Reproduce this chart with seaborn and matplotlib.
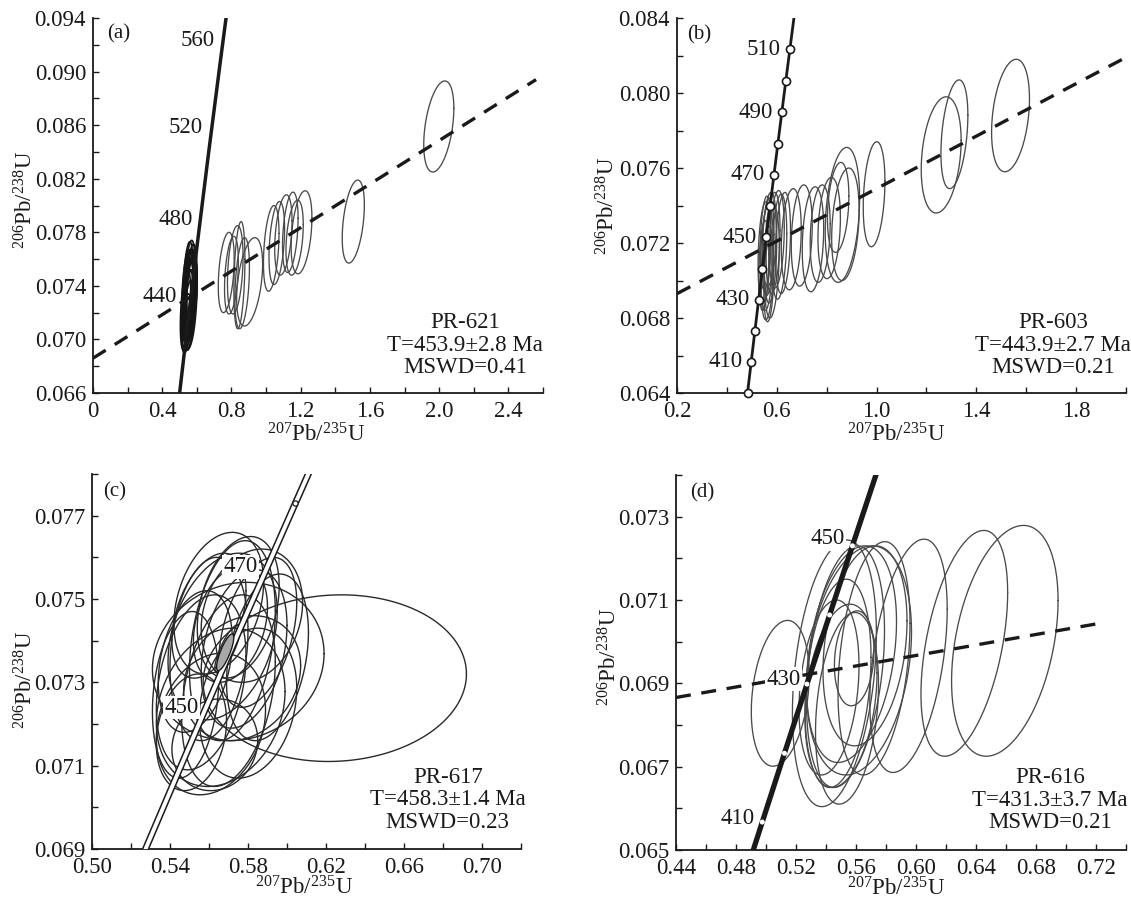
import numpy as np
import pandas as pd
import matplotlib
matplotlib.use("Agg")
import matplotlib.pyplot as plt
import seaborn as sns
from matplotlib.ticker import MultipleLocator

# ---------------- panel (a) PR-621 ----------------
# first 20 ellipses form the dense cluster near the concordia
a_cx = [0.535, 0.540, 0.545, 0.548, 0.550, 0.552, 0.555, 0.556, 0.558, 0.560, 0.562, 0.564, 0.566, 0.568, 0.570,
        0.542, 0.547, 0.553, 0.557, 0.572,
        0.770, 0.800, 0.822, 0.846, 0.862, 0.905,
        1.030, 1.062, 1.100, 1.140, 1.165, 1.205,
        1.504, 1.998]
a_cy = [0.0722, 0.0712, 0.0735, 0.0740, 0.0728, 0.0735, 0.0718, 0.0738, 0.0730, 0.0744, 0.0726, 0.0737, 0.0733, 0.0742,
        0.0739, 0.0705, 0.0725, 0.0732, 0.0722, 0.0736,
        0.0750, 0.0748, 0.0752, 0.0748, 0.0742, 0.0743,
        0.0768, 0.0772, 0.0778, 0.0780, 0.0776, 0.0780,
        0.0788, 0.0859]
a_sx = [0.030, 0.028, 0.032, 0.030, 0.034, 0.032, 0.030, 0.036, 0.034, 0.030, 0.038, 0.034, 0.036, 0.032, 0.030,
        0.026, 0.034, 0.036, 0.032, 0.030,
        0.046, 0.040, 0.045, 0.032, 0.042, 0.075,
        0.045, 0.045, 0.050, 0.045, 0.050, 0.060,
        0.064, 0.087]
a_sy = [0.0030, 0.0022, 0.0032, 0.0033, 0.0030, 0.0030, 0.0026, 0.0029, 0.0031, 0.0030, 0.0033, 0.0030, 0.0028, 0.0029,
        0.0025, 0.0011, 0.0027, 0.0034, 0.0030, 0.0026,
        0.0030, 0.0029, 0.0033, 0.0040, 0.0034, 0.0033,
        0.0032, 0.0031, 0.0030, 0.0030, 0.0028, 0.0031,
        0.0031, 0.0034]
a_rho = [0.40, 0.40, 0.35, 0.40, 0.35, 0.40, 0.35, 0.35, 0.40, 0.35, 0.35, 0.40, 0.35, 0.40, 0.35,
         0.40, 0.35, 0.35, 0.40, 0.35,
         0.35, 0.35, 0.30, 0.30, 0.35, 0.40,
         0.35, 0.35, 0.35, 0.35, 0.35, 0.35,
         0.40, 0.40]
a_conc_age = [400, 440, 480, 520, 560, 580]
a_conc_x = [0.4828, 0.5424, 0.6043, 0.6688, 0.7358, 0.7704]
a_conc_y = [0.06402, 0.07064, 0.07730, 0.08401, 0.09075, 0.09415]
a_label_ages = [440, 480, 520, 560]
a_disc_x = [0.0, 2.56]
a_disc_y = [0.0686, 0.0894]

# ---------------- panel (b) PR-603 ----------------
b_cx = [0.550, 0.555, 0.560, 0.565, 0.548, 0.570, 0.575, 0.562, 0.585, 0.580, 0.600, 0.610, 0.625, 0.568,
        0.658, 0.700, 0.745, 0.774, 0.810,
        0.846, 0.863, 0.875, 0.990, 1.259, 1.312, 1.537]
b_cy = [0.0715, 0.0720, 0.0712, 0.0718, 0.0708, 0.0722, 0.0715, 0.0704, 0.0720, 0.0710, 0.0722, 0.0718, 0.0720, 0.0700,
        0.0722, 0.0724, 0.0722, 0.0725, 0.0728,
        0.0739, 0.0735, 0.0730, 0.0746, 0.0767, 0.0778, 0.0788]
b_sx = [0.025, 0.022, 0.026, 0.024, 0.020, 0.028, 0.025, 0.025, 0.028, 0.030, 0.030, 0.030, 0.030, 0.020,
        0.040, 0.042, 0.043, 0.040, 0.045,
        0.043, 0.069, 0.055, 0.0435, 0.080, 0.054, 0.076]
b_sy = [0.0027, 0.0025, 0.0028, 0.0026, 0.0024, 0.0025, 0.0027, 0.0025, 0.0027, 0.0030, 0.0026, 0.0028, 0.0027, 0.0022,
        0.0027, 0.0027, 0.0028, 0.0026, 0.0027,
        0.0024, 0.0036, 0.0030, 0.0028, 0.0031, 0.0029, 0.0030]
b_rho = [0.25, 0.25, 0.25, 0.25, 0.25, 0.25, 0.25, 0.25, 0.25, 0.25, 0.25, 0.25, 0.25, 0.25,
         0.2, 0.2, 0.2, 0.2, 0.2,
         0.25, 0.25, 0.25, 0.25, 0.25, 0.35, 0.30]
b_conc_age = [400, 410, 420, 430, 440, 450, 460, 470, 480, 490, 500, 510, 520]
b_conc_x = [0.4828, 0.4975, 0.5123, 0.5273, 0.5424, 0.5576, 0.5730, 0.5886, 0.6043, 0.6202, 0.6362, 0.6524, 0.6688]
b_conc_y = [0.06402, 0.06567, 0.06732, 0.06898, 0.07064, 0.07230, 0.07397, 0.07563, 0.07730, 0.07898,
            0.08065, 0.08233, 0.08401]
b_marker_ages = [400, 410, 420, 430, 440, 450, 460, 470, 480, 490, 500, 510]
b_label_ages = [410, 430, 450, 470, 490, 510]
b_disc_x = [0.2, 2.0]
b_disc_y = [0.0693, 0.0819]

# ---------------- panel (c) PR-617 ----------------
c_cx = [0.565, 0.575, 0.582, 0.572, 0.560, 0.575, 0.567, 0.556, 0.551, 0.561, 0.563, 0.570, 0.578,
        0.585, 0.553, 0.577, 0.566, 0.590, 0.548, 0.571, 0.580, 0.560, 0.6245, 0.5695]
c_cy = [0.0749, 0.0748, 0.0746, 0.0740, 0.0738, 0.0735, 0.0741, 0.0730, 0.0718, 0.0720, 0.0715, 0.0728, 0.0738,
        0.0742, 0.0735, 0.0731, 0.0724, 0.0736, 0.0727, 0.0744, 0.0725, 0.0746, 0.0731, 0.0738]
c_sx = [0.023, 0.021, 0.026, 0.022, 0.020, 0.044, 0.028, 0.023, 0.018, 0.028, 0.022, 0.024, 0.022,
        0.020, 0.019, 0.030, 0.033, 0.021, 0.017, 0.019, 0.025, 0.019, 0.0675, 0.0065]
c_sy = [0.0017, 0.0017, 0.0016, 0.0024, 0.0022, 0.0019, 0.0020, 0.0021, 0.0014, 0.0017, 0.0011, 0.0023, 0.0019,
        0.0018, 0.0017, 0.0015, 0.0019, 0.0020, 0.0020, 0.0014, 0.0018, 0.0015, 0.0020, 0.00058]
c_rho = [0.3, 0.3, 0.2, 0.3, 0.2, 0.1, 0.3, 0.3, 0.2, 0.2, 0.1, 0.3, 0.3,
         0.4, 0.3, 0.2, 0.2, 0.3, 0.2, 0.3, 0.2, 0.4, 0.05, 0.8]
c_mean = [0.5683, 0.07372, 0.0044, 0.00044, 0.8]   # concordia age ellipse (filled)
c_conc_age = [420, 430, 440, 450, 460, 470, 480, 490]
c_conc_x = [0.5123, 0.5273, 0.5424, 0.5576, 0.5730, 0.5886, 0.6043, 0.6202]
c_conc_y = [0.06732, 0.06898, 0.07064, 0.07230, 0.07397, 0.07563, 0.07730, 0.07898]
c_marker_ages = [480]
c_label_ages = [450, 470]

# ---------------- panel (d) PR-616 ----------------
d_cx = [0.5095, 0.5456, 0.5620, 0.5530, 0.5480, 0.5588, 0.5420, 0.5570, 0.5660, 0.5500, 0.5720, 0.5540,
        0.5950, 0.6322, 0.6592]
d_cy = [0.06876, 0.06924, 0.06955, 0.06940, 0.06900, 0.06960, 0.06890, 0.06970, 0.06990, 0.06870, 0.06960, 0.06840,
        0.06966, 0.06996, 0.07002]
d_sx = [0.0193, 0.0280, 0.0350, 0.0260, 0.0220, 0.0132, 0.0200, 0.0300, 0.0280, 0.0240, 0.0240, 0.0210,
        0.0258, 0.0289, 0.0355]
d_sy = [0.00175, 0.00320, 0.00275, 0.00290, 0.00250, 0.00114, 0.00210, 0.00260, 0.00240, 0.00220, 0.00280, 0.00230,
        0.00280, 0.00271, 0.00277]
d_rho = [0.25, 0.30, 0.25, 0.30, 0.25, 0.15, 0.25, 0.30, 0.25, 0.25, 0.30, 0.25,
         0.40, 0.45, 0.35]
d_conc_age = [400, 410, 420, 430, 440, 450, 460, 470]
d_conc_x = [0.4828, 0.4975, 0.5123, 0.5273, 0.5424, 0.5576, 0.5730, 0.5886]
d_conc_y = [0.06402, 0.06567, 0.06732, 0.06898, 0.07064, 0.07230, 0.07397, 0.07563]
d_marker_ages = [410, 420, 430, 440, 450]
d_label_ages = [410, 430, 450]
d_disc_x = [0.44, 0.724]
d_disc_y = [0.06866, 0.07045]

# ---------------- axes / text ----------------
panel_tags = ["(a)", "(b)", "(c)", "(d)"]
sample_names = ["PR-621", "PR-603", "PR-617", "PR-616"]
age_texts = ["T=453.9\u00b12.8 Ma", "T=443.9\u00b12.7 Ma", "T=458.3\u00b11.4 Ma", "T=431.3\u00b13.7 Ma"]
mswd_texts = ["MSWD=0.41", "MSWD=0.21", "MSWD=0.23", "MSWD=0.21"]

a_xticks = [0.0, 0.4, 0.8, 1.2, 1.6, 2.0, 2.4]
a_xlabels = ["0", "0.4", "0.8", "1.2", "1.6", "2.0", "2.4"]
a_yticks = [0.066, 0.070, 0.074, 0.078, 0.082, 0.086, 0.090, 0.094]
a_ylabels = ["0.066", "0.070", "0.074", "0.078", "0.082", "0.086", "0.090", "0.094"]
b_xticks = [0.2, 0.6, 1.0, 1.4, 1.8]
b_xlabels = ["0.2", "0.6", "1.0", "1.4", "1.8"]
b_yticks = [0.064, 0.068, 0.072, 0.076, 0.080, 0.084]
b_ylabels = ["0.064", "0.068", "0.072", "0.076", "0.080", "0.084"]
c_xticks = [0.50, 0.54, 0.58, 0.62, 0.66, 0.70]
c_xlabels = ["0.50", "0.54", "0.58", "0.62", "0.66", "0.70"]
c_yticks = [0.069, 0.071, 0.073, 0.075, 0.077]
c_ylabels = ["0.069", "0.071", "0.073", "0.075", "0.077"]
d_xticks = [0.44, 0.48, 0.52, 0.56, 0.60, 0.64, 0.68, 0.72]
d_xlabels = ["0.44", "0.48", "0.52", "0.56", "0.60", "0.64", "0.68", "0.72"]
d_yticks = [0.065, 0.067, 0.069, 0.071, 0.073]
d_ylabels = ["0.065", "0.067", "0.069", "0.071", "0.073"]

XLAB = r"$^{207}$Pb/$^{235}$U"
YLAB = r"$^{206}$Pb/$^{238}$U"

sns.set_style("ticks")
plt.rcParams["font.family"] = ["Liberation Serif", "DejaVu Serif"]
plt.rcParams["mathtext.fontset"] = "custom"
plt.rcParams["mathtext.rm"] = "Liberation Serif"
plt.rcParams["mathtext.default"] = "regular"

INK = "#1a1a1a"
FS = 16.5


def ellipse_frame(cx, cy, sx, sy, rho, n=160):
    """Outline points of correlated error ellipses, one id per ellipse."""
    t = np.linspace(0, 2 * np.pi, n)
    parts = []
    for i, (x0, y0, a, b, r) in enumerate(zip(cx, cy, sx, sy, rho)):
        xs = x0 + a * np.cos(t)
        ys = y0 + b * (r * np.cos(t) + np.sqrt(1 - r * r) * np.sin(t))
        parts.append(pd.DataFrame({"x": xs, "y": ys, "id": i}))
    return pd.concat(parts, ignore_index=True)


def draw_ellipses(ax, cx, cy, sx, sy, rho, color, lw):
    df = ellipse_frame(cx, cy, sx, sy, rho)
    sns.lineplot(data=df, x="x", y="y", units="id", estimator=None, sort=False,
                 color=color, lw=lw, ax=ax, legend=False, zorder=2)


def pick(ages, values, wanted):
    return [v for a, v in zip(ages, values) if a in wanted]


def style_axes(ax, xlim, ylim, xt, xl, xminor, yt, yl, yminor, ylab_pos, xlab_pos):
    ax.set_xlim(*xlim)
    ax.set_ylim(*ylim)
    ax.set_xticks(xt, labels=xl)
    ax.set_yticks(yt, labels=yl)
    ax.xaxis.set_minor_locator(MultipleLocator(xminor))
    ax.yaxis.set_minor_locator(MultipleLocator(yminor))
    ax.tick_params(which="both", direction="in", length=4.5, width=1.0, colors=INK,
                   labelsize=FS)
    ax.tick_params(axis="x", pad=6)
    ax.tick_params(axis="y", pad=5)
    sns.despine(ax=ax)
    for side in ["left", "bottom"]:
        ax.spines[side].set_linewidth(1.3)
        ax.spines[side].set_color(INK)
    ax.set_xlabel(XLAB, fontsize=FS, color=INK)
    ax.set_ylabel(YLAB, fontsize=FS, color=INK)
    ax.yaxis.set_label_coords(*ylab_pos)
    ax.xaxis.set_label_coords(*xlab_pos)


def info_text(ax, k, pos, tag_pos):
    ax.text(pos[0], pos[1], "\n".join([sample_names[k], age_texts[k], mswd_texts[k]]),
            transform=ax.transAxes, ha="center", va="center", multialignment="center",
            fontsize=FS, linespacing=1.1, color=INK)
    ax.text(tag_pos[0], tag_pos[1], panel_tags[k], transform=ax.transAxes,
            ha="center", va="center", fontsize=15, color=INK)


fig = plt.figure(figsize=(11.31, 9.0), dpi=100)
ax_a = fig.add_axes([0.0822, 0.5633, 0.3979, 0.4167])
ax_b = fig.add_axes([0.5986, 0.5633, 0.3970, 0.4167])
ax_c = fig.add_axes([0.0813, 0.0567, 0.3794, 0.4166])
ax_d = fig.add_axes([0.5977, 0.0556, 0.3979, 0.4166])

# ---- (a) ----
draw_ellipses(ax_a, a_cx[:20], a_cy[:20], a_sx[:20], a_sy[:20], a_rho[:20], "#151515", 1.2)
draw_ellipses(ax_a, a_cx[20:], a_cy[20:], a_sx[20:], a_sy[20:], a_rho[20:], "#4a4a4a", 0.95)
sns.lineplot(x=a_disc_x, y=a_disc_y, ax=ax_a, color=INK, lw=2.4,
             linestyle=(0, (4.5, 3.2)), zorder=3)
sns.lineplot(x=a_conc_x, y=a_conc_y, sort=False, estimator=None, ax=ax_a, color=INK, lw=2.5, zorder=4)
a_off = {440: (-27, 34), 480: (-22, 22), 520: (-23, 24), 560: (-23, 21)}
for age, x, y in zip(a_conc_age, a_conc_x, a_conc_y):
    if age in a_label_ages:
        ax_a.annotate(str(age), xy=(x, y), xytext=a_off[age], textcoords="offset pixels",
                      ha="center", va="center", fontsize=FS, color=INK)
style_axes(ax_a, (0, 2.6), (0.066, 0.094), a_xticks, a_xlabels, 0.2, a_yticks, a_ylabels, 0.002,
           (-0.124, 0.515), (0.495, -0.08))
info_text(ax_a, 0, (0.827, 0.128), (0.057, 0.959))

# ---- (b) ----
draw_ellipses(ax_b, b_cx, b_cy, b_sx, b_sy, b_rho, "#4a4a4a", 0.95)
sns.lineplot(x=b_disc_x, y=b_disc_y, ax=ax_b, color=INK, lw=2.4,
             linestyle=(0, (4.5, 3.2)), zorder=3)
sns.lineplot(x=b_conc_x, y=b_conc_y, sort=False, estimator=None, ax=ax_b, color=INK, lw=2.0, zorder=4)
sns.scatterplot(x=pick(b_conc_age, b_conc_x, b_marker_ages), y=pick(b_conc_age, b_conc_y, b_marker_ages),
                ax=ax_b, s=34, color="white", edgecolor=INK, linewidth=1.2, zorder=5, clip_on=False)
for age, x, y in zip(b_conc_age, b_conc_x, b_conc_y):
    if age in b_label_ages:
        ax_b.annotate(str(age), xy=(x, y), xytext=(-9, 0), textcoords="offset pixels",
                      ha="right", va="center", fontsize=FS, color=INK)
style_axes(ax_b, (0.2, 2.0), (0.064, 0.084), b_xticks, b_xlabels, 0.2, b_yticks, b_ylabels, 0.002,
           (-0.128, 0.50), (0.487, -0.08))
info_text(ax_b, 1, (0.837, 0.128), (0.049, 0.955))

# ---- (c) ----
draw_ellipses(ax_c, c_cx, c_cy, c_sx, c_sy, c_rho, "#2a2a2a", 1.0)
mean_df = ellipse_frame([c_mean[0]], [c_mean[1]], [c_mean[2]], [c_mean[3]], [c_mean[4]])
sns.lineplot(x=c_conc_x, y=c_conc_y, sort=False, estimator=None, ax=ax_c, color=INK, lw=5.0, zorder=4)
sns.lineplot(x=c_conc_x, y=c_conc_y, sort=False, estimator=None, ax=ax_c, color="white", lw=2.8, zorder=4)
ax_c.fill(mean_df["x"], mean_df["y"], facecolor="#a8a8a8", edgecolor=INK, lw=1.0, zorder=5)
sns.scatterplot(x=pick(c_conc_age, c_conc_x, c_marker_ages), y=pick(c_conc_age, c_conc_y, c_marker_ages),
                ax=ax_c, s=14, color="white", edgecolor=INK, linewidth=0.9, zorder=5)
c_off = {450: (-23, 4), 470: (-24, 6)}
for age, x, y in zip(c_conc_age, c_conc_x, c_conc_y):
    if age in c_label_ages:
        ax_c.annotate(str(age), xy=(x, y), xytext=c_off[age], textcoords="offset pixels",
                      ha="center", va="center", fontsize=FS, color=INK, zorder=6,
                      bbox=dict(boxstyle="square,pad=0.06", fc="white", ec="none"))
style_axes(ax_c, (0.5, 0.72), (0.069, 0.078), c_xticks, c_xlabels, 0.02, c_yticks, c_ylabels, 0.001,
           (-0.128, 0.45), (0.494, -0.074))
info_text(ax_c, 2, (0.829, 0.131), (0.052, 0.953))

# ---- (d) ----
draw_ellipses(ax_d, d_cx, d_cy, d_sx, d_sy, d_rho, "#4a4a4a", 0.95)
sns.lineplot(x=d_disc_x, y=d_disc_y, ax=ax_d, color=INK, lw=2.4,
             linestyle=(0, (4.5, 3.2)), zorder=3)
sns.lineplot(x=d_conc_x, y=d_conc_y, sort=False, estimator=None, ax=ax_d, color=INK, lw=3.8, zorder=4)
sns.scatterplot(x=pick(d_conc_age, d_conc_x, d_marker_ages), y=pick(d_conc_age, d_conc_y, d_marker_ages),
                ax=ax_d, s=13, color="white", edgecolor="none", zorder=5)
d_off = {410: (-25, 4), 430: (-23, 5), 450: (-25, 7)}
for age, x, y in zip(d_conc_age, d_conc_x, d_conc_y):
    if age in d_label_ages:
        ax_d.annotate(str(age), xy=(x, y), xytext=d_off[age], textcoords="offset pixels",
                      ha="center", va="center", fontsize=FS, color=INK, zorder=6,
                      bbox=dict(boxstyle="square,pad=0.06", fc="white", ec="none"))
style_axes(ax_d, (0.44, 0.74), (0.065, 0.074), d_xticks, d_xlabels, 0.02, d_yticks, d_ylabels, 0.001,
           (-0.122, 0.515), (0.488, -0.074))
info_text(ax_d, 3, (0.831, 0.133), (0.058, 0.952))

fig.savefig("out.png", dpi=100)
